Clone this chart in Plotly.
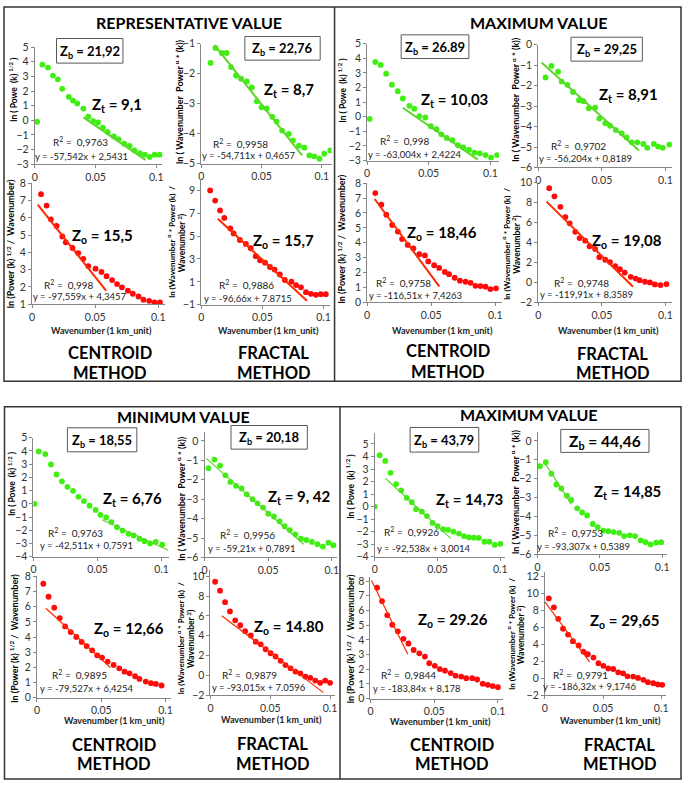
import plotly.graph_objects as go

W, H = 685, 787
FONT = "Lato"

XT_VALS = [0, 0.05, 0.1]
XT_TEXT = ["0", "0.05", "0.1"]

# ---------------- REPRESENTATIVE VALUE ----------------
rep_ct_top_x = [0.002, 0.0063, 0.0109, 0.015, 0.019, 0.0226, 0.028, 0.0315, 0.035, 0.040, 0.044, 0.048, 0.052,
                0.056, 0.060, 0.065, 0.069, 0.0736, 0.078, 0.082, 0.0864, 0.0905, 0.0946, 0.0986, 0.1027]
rep_ct_top_y = [-0.1, 3.8, 3.6, 3.05, 2.8, 2.15, 1.6, 1.35, 1.15, 0.8, 0.25, -0.05, -0.15,
                -0.5, -0.8, -1.1, -1.3, -1.6, -1.75, -2.05, -2.25, -2.35, -2.5, -2.35, -2.35]
rep_ct_top_fit_x = [0.040, 0.091]
rep_ct_top_fit_y = [0.2, -2.7]

rep_fr_top_x = [0.0077, 0.0118, 0.017, 0.021, 0.0247, 0.0288, 0.033, 0.0378, 0.042, 0.046, 0.050, 0.0542,
                0.0589, 0.0625, 0.067, 0.0726, 0.076, 0.081, 0.0855, 0.0896, 0.0937, 0.098, 0.102, 0.107]
rep_fr_top_y = [-1.64, -1.14, -1.31, -1.31, -1.78, -2.06, -2.17, -2.26, -2.46, -2.92, -3.12, -3.16,
                -3.44, -3.6, -3.9, -4.01, -4.23, -4.4, -4.47, -4.73, -4.76, -4.84, -4.67, -4.56]
rep_fr_top_fit_x = [0.011, 0.0836]
rep_fr_top_fit_y = [-1.05, -4.73]

rep_ct_bot_x = [0.0071, 0.0115, 0.0149, 0.0194, 0.024, 0.0267, 0.032, 0.0366, 0.0406, 0.0445, 0.0503, 0.055,
                0.059, 0.0634, 0.0673, 0.0712, 0.0759, 0.0798, 0.0843, 0.0882, 0.0927, 0.0969, 0.1013]
rep_ct_bot_y = [7.37, 6.71, 5.91, 5.53, 4.92, 4.58, 4.25, 3.95, 3.62, 3.2, 3.05, 2.86,
                2.62, 2.39, 2.16, 1.97, 1.78, 1.6, 1.44, 1.25, 1.19, 1.1, 1.1]
rep_ct_bot_fit_x = [0.0045, 0.0586]
rep_ct_bot_fit_y = [6.76, 1.78]

rep_fr_bot_x = [0.0073, 0.0114, 0.0154, 0.0189, 0.0238, 0.0265, 0.0316, 0.0365, 0.0405, 0.0446, 0.0481, 0.0522,
                0.0562, 0.060, 0.0643, 0.0684, 0.0738, 0.0776, 0.0816, 0.0857, 0.0897, 0.0938, 0.0978, 0.1019]
rep_fr_bot_y = [9.0, 8.11, 7.25, 6.59, 5.67, 5.24, 4.66, 4.32, 3.94, 3.25, 2.88, 2.68,
                2.3, 2.07, 1.64, 1.16, 1.01, 0.72, 0.52, 0.09, -0.05, -0.14, -0.08, -0.08]
rep_fr_bot_fit_x = [0.0135, 0.0865]
rep_fr_bot_fit_y = [6.53, -0.66]

# ---------------- MAXIMUM VALUE (top) ----------------
max1_ct_top_x = [0.0021, 0.0067, 0.011, 0.0155, 0.0201, 0.0249, 0.029, 0.0343, 0.0383, 0.0424, 0.0472, 0.0517,
                 0.0563, 0.0603, 0.0646, 0.0692, 0.0737, 0.078, 0.0826, 0.0871, 0.0914, 0.096, 0.1005, 0.1054]
max1_ct_top_y = [-0.15, 3.75, 3.55, 2.95, 2.2, 1.75, 1.25, 0.75, 0.55, 0.05, -0.05, -0.65,
                 -0.85, -1.2, -1.45, -1.6, -1.95, -2.1, -2.25, -2.45, -2.5, -2.62, -2.8, -2.62]
max1_ct_top_fit_x = [0.029, 0.0898]
max1_ct_top_fit_y = [0.62, -2.93]

max1_fr_top_x = [0.0057, 0.0104, 0.0156, 0.0184, 0.0229, 0.0273, 0.032, 0.0356, 0.0397, 0.0447, 0.048, 0.0527,
                 0.0564, 0.061, 0.0657, 0.0694, 0.0735, 0.0779, 0.0826, 0.0857, 0.0909, 0.0943, 0.0979, 0.1031]
max1_fr_top_y = [-1.6, -1.03, -1.32, -1.8, -1.96, -2.31, -2.71, -2.76, -3.11, -3.08, -3.61, -3.84,
                 -3.96, -4.17, -4.33, -4.53, -4.77, -4.77, -4.85, -5.04, -4.85, -4.98, -5.04, -4.88]
max1_fr_top_fit_x = [0.0026, 0.0792]
max1_fr_top_fit_y = [-0.87, -5.17]

max1_ct_bot_x = [0.0064, 0.0111, 0.015, 0.0196, 0.024, 0.0273, 0.0317, 0.0361, 0.0407, 0.0451, 0.0477, 0.0523,
                 0.0562, 0.0606, 0.0639, 0.0683, 0.0724, 0.0768, 0.0807, 0.0845, 0.0884, 0.0923, 0.0961, 0.1005]
max1_ct_bot_y = [7.34, 6.56, 5.88, 5.19, 4.75, 4.24, 3.85, 3.62, 3.23, 3.14, 2.74, 2.48,
                 2.3, 2.03, 1.88, 1.64, 1.44, 1.37, 1.3, 1.1, 1.08, 1.04, 0.88, 0.93]
max1_ct_bot_fit_x = [0.0059, 0.0564]
max1_ct_bot_fit_y = [6.94, 1.04]

max1_fr_bot_x = [0.0086, 0.0127, 0.0174, 0.0213, 0.0247, 0.0291, 0.0325, 0.0369, 0.0403, 0.0447, 0.048, 0.0527,
                 0.0564, 0.0605, 0.0642, 0.068, 0.0727, 0.0766, 0.0797, 0.0839, 0.0878, 0.0917, 0.0961, 0.1008]
max1_fr_bot_y = [9.44, 8.62, 7.57, 6.55, 5.92, 5.07, 4.44, 4.18, 3.62, 3.36, 2.53, 2.27,
                 2.04, 1.64, 1.32, 0.99, 0.56, 0.39, 0.23, 0.07, 0.0, -0.2, -0.26, -0.16]
max1_fr_bot_fit_x = [0.0065, 0.0745]
max1_fr_bot_fit_y = [8.09, -0.43]

# ---------------- MINIMUM VALUE ----------------
min_ct_top_x = [0.0008, 0.0041, 0.0093, 0.0137, 0.018, 0.0222, 0.0265, 0.0309, 0.0351, 0.0394, 0.0438, 0.0485,
                0.0523, 0.0567, 0.0608, 0.0652, 0.0696, 0.0742, 0.0781, 0.0827, 0.0866, 0.091, 0.0954, 0.1005]
min_ct_top_y = [0.0, 3.96, 3.76, 2.97, 2.22, 1.7, 1.28, 0.98, 0.53, 0.21, -0.14, -0.46,
                -0.83, -1.03, -1.38, -1.77, -2.02, -2.27, -2.39, -2.64, -2.82, -2.99, -2.87, -3.08]
min_ct_top_fit_x = [0.0536, 0.1052]
min_ct_top_fit_y = [-1.2, -3.51]

min_fr_top_x = [0.0031, 0.0078, 0.0122, 0.0164, 0.0203, 0.0247, 0.0291, 0.0332, 0.0377, 0.0416, 0.046, 0.0501,
                0.0545, 0.059, 0.0629, 0.067, 0.0714, 0.0758, 0.080, 0.0844, 0.0888, 0.093, 0.0974, 0.1013]
min_fr_top_y = [-1.4, -0.96, -1.27, -1.77, -2.11, -2.31, -2.45, -2.75, -3.0, -3.21, -3.43, -3.75,
                -3.89, -4.14, -4.39, -4.59, -4.81, -5.03, -5.1, -5.2, -5.32, -5.44, -5.24, -5.37]
min_fr_top_fit_x = [0.0013, 0.0779]
min_fr_top_fit_y = [-0.9, -5.32]

min_ct_bot_x = [0.0049, 0.009, 0.0134, 0.0177, 0.0219, 0.0262, 0.0306, 0.0347, 0.0386, 0.0429, 0.0468, 0.0506,
                0.055, 0.0596, 0.064, 0.0681, 0.072, 0.0763, 0.0797, 0.0846, 0.0887, 0.0925, 0.0969]
min_ct_bot_y = [7.52, 6.66, 5.94, 5.25, 4.7, 4.33, 4.01, 3.68, 3.4, 3.12, 2.79, 2.64,
                2.38, 2.16, 1.93, 1.71, 1.6, 1.41, 1.23, 1.06, 0.95, 0.9, 0.8]
min_ct_bot_fit_x = [0.0069, 0.0571]
min_ct_bot_fit_y = [5.9, 1.99]

min_fr_bot_x = [0.0039, 0.008, 0.0122, 0.0163, 0.0207, 0.0249, 0.029, 0.0337, 0.0378, 0.042, 0.0461, 0.0503,
                0.0544, 0.0586, 0.0627, 0.0669, 0.071, 0.0751, 0.0793, 0.0834, 0.0876, 0.0917, 0.0959, 0.100]
min_fr_bot_y = [9.44, 8.54, 7.38, 6.45, 5.56, 5.06, 4.46, 4.03, 3.4, 3.14, 2.64, 2.24,
                1.91, 1.48, 1.05, 0.72, 0.39, 0.22, -0.11, -0.24, -0.51, -0.74, -0.51, -0.74]
min_fr_bot_fit_x = [0.0094, 0.0945]
min_fr_bot_fit_y = [6.02, -1.73]

# ---------------- MAXIMUM VALUE (bottom) ----------------
max2_ct_top_x = [0.0, 0.0039, 0.0084, 0.0126, 0.0171, 0.0211, 0.0255, 0.0295, 0.0329, 0.0376, 0.0416, 0.0461,
                 0.050, 0.0545, 0.0584, 0.0626, 0.0671, 0.0711, 0.075, 0.0789, 0.0829, 0.0874, 0.0913, 0.0955, 0.100]
max2_ct_top_y = [0.0, 4.1, 3.65, 2.7, 1.8, 1.3, 0.7, 0.35, -0.2, -0.4, -0.75, -1.3,
                 -1.55, -1.8, -1.85, -2.0, -2.15, -2.35, -2.45, -2.48, -2.5, -2.8, -2.8, -3.05, -2.97]
max2_ct_top_fit_x = [0.0087, 0.0605]
max2_ct_top_fit_y = [2.24, -2.53]

max2_fr_top_x = [0.0019, 0.0066, 0.0111, 0.0151, 0.0191, 0.0236, 0.0271, 0.0318, 0.0358, 0.0398, 0.0443, 0.0483,
                 0.0528, 0.0568, 0.061, 0.0655, 0.0695, 0.074, 0.0782, 0.0828, 0.0867, 0.0907, 0.0952, 0.0992]
max2_fr_top_y = [-1.34, -1.13, -1.74, -2.31, -2.52, -2.9, -3.13, -3.57, -3.79, -3.95, -4.4, -4.57,
                 -4.75, -4.78, -4.83, -4.87, -5.04, -5.0, -5.04, -5.27, -5.36, -5.48, -5.39, -5.36]
max2_fr_top_fit_x = [0.0058, 0.0271]
max2_fr_top_fit_y = [-1.17, -3.36]

max2_ct_bot_x = [0.0052, 0.0091, 0.0132, 0.0171, 0.0215, 0.0259, 0.0298, 0.0339, 0.0383, 0.0427, 0.0461, 0.0505,
                 0.0544, 0.0585, 0.063, 0.0668, 0.0712, 0.0751, 0.0798, 0.0837, 0.0881, 0.092, 0.0959, 0.100]
max2_ct_bot_y = [7.55, 6.64, 5.68, 5.03, 4.58, 4.07, 3.75, 3.31, 3.08, 2.86, 2.41, 2.23,
                 2.01, 1.9, 1.74, 1.56, 1.5, 1.39, 1.39, 1.3, 1.01, 0.94, 0.85, 0.78]
max2_ct_bot_fit_x = [0.0008, 0.0293]
max2_ct_bot_fit_y = [8.04, 3.02]

max2_fr_bot_x = [0.0034, 0.0077, 0.0114, 0.0156, 0.0199, 0.0241, 0.029, 0.0332, 0.0369, 0.0418, 0.046, 0.0503,
                 0.0545, 0.0588, 0.0631, 0.0673, 0.071, 0.0759, 0.0801, 0.0847, 0.0886, 0.0932, 0.0972, 0.1009]
max2_fr_bot_y = [9.41, 8.37, 7.01, 5.85, 5.16, 4.38, 3.88, 3.14, 2.84, 2.45, 1.79, 1.48,
                 1.17, 1.1, 0.71, 0.59, 0.24, 0.21, 0.05, -0.18, -0.45, -0.57, -0.72, -0.76]
max2_fr_bot_fit_x = [0.0, 0.0384]
max2_fr_bot_fit_y = [9.02, 1.95]

# y tick values
yt_m3_5 = [-3, -2, -1, 0, 1, 2, 3, 4, 5]
yt_m4_5 = [-4, -3, -2, -1, 0, 1, 2, 3, 4, 5]
yt_m5_m1 = [-5, -4, -3, -2, -1]
yt_m6_0 = [-6, -5, -4, -3, -2, -1, 0]
yt_1_8 = [1, 2, 3, 4, 5, 6, 7, 8]
yt_0_8 = [0, 1, 2, 3, 4, 5, 6, 7, 8]
yt_m1_9 = [-1, 1, 3, 5, 7, 9]
yt_m2_10 = [-2, 0, 2, 4, 6, 8, 10]
yt_m2_12 = [-2, 0, 2, 4, 6, 8, 10, 12]

GREEN = "#3FEF12"
GREEN_LINE = "#5CD62A"
RED = "#FF0A0A"
RED_LINE = "#FF2A00"

# layout of each panel (pixel geometry)
panels = [
    # x, y, fit x, fit y, marker colour, line colour, px of x=0, px per 0.1, x max, ymin, px, ymax, px, ticks, line width
    (rep_ct_top_x, rep_ct_top_y, rep_ct_top_fit_x, rep_ct_top_fit_y, GREEN, GREEN_LINE, 32, 122.7, 0.105, -3, 160.7, 5, 41.7, yt_m3_5, 2),
    (rep_fr_top_x, rep_fr_top_y, rep_fr_top_fit_x, rep_fr_top_fit_y, GREEN, GREEN_LINE, 200, 121.7, 0.108, -5, 160, -1, 38.3, yt_m5_m1, 2),
    (rep_ct_bot_x, rep_ct_bot_y, rep_ct_bot_fit_x, rep_ct_bot_fit_y, RED, RED_LINE, 29.3, 127.4, 0.105, 1, 302.7, 8, 180, yt_1_8, 2),
    (rep_fr_bot_x, rep_fr_bot_y, rep_fr_bot_fit_x, rep_fr_bot_fit_y, RED, RED_LINE, 200, 123.3, 0.105, -1, 303.3, 10, 175.7, yt_m1_9, 2),
    (max1_ct_top_x, max1_ct_top_y, max1_ct_top_fit_x, max1_ct_top_fit_y, GREEN, GREEN_LINE, 367.3, 124.4, 0.107, -3, 157, 5, 38.3, yt_m3_5, 2),
    (max1_fr_top_x, max1_fr_top_y, max1_fr_top_fit_x, max1_fr_top_fit_y, GREEN, GREEN_LINE, 540, 128.3, 0.105, -6, 164, 0, 39.3, yt_m6_0, 2),
    (max1_ct_bot_x, max1_ct_bot_y, max1_ct_bot_fit_x, max1_ct_bot_fit_y, RED, RED_LINE, 367.3, 129.4, 0.105, 0, 300.7, 8, 180, yt_0_8, 2),
    (max1_fr_bot_x, max1_fr_bot_y, max1_fr_bot_fit_x, max1_fr_bot_fit_y, RED, RED_LINE, 540, 128.3, 0.105, -2, 301, 10, 179.3, yt_m2_10, 2),
    (min_ct_top_x, min_ct_top_y, min_ct_top_fit_x, min_ct_top_fit_y, GREEN, GREEN_LINE, 30.7, 129.3, 0.106, -4, 559.3, 5, 438.3, yt_m4_5, 1.2),
    (min_fr_top_x, min_fr_top_y, min_fr_top_fit_x, min_fr_top_fit_y, GREEN, GREEN_LINE, 203.3, 128.4, 0.104, -6, 560, 0.44, 433, yt_m6_0, 1.2),
    (min_ct_bot_x, min_ct_bot_y, min_ct_bot_fit_x, min_ct_bot_fit_y, RED, RED_LINE, 34.3, 129.7, 0.104, 0, 702.3, 8, 579.3, yt_0_8, 1.2),
    (min_fr_bot_x, min_fr_bot_y, min_fr_bot_fit_x, min_fr_bot_fit_y, RED, RED_LINE, 209.3, 120.7, 0.104, -2, 700, 10.6, 573, yt_m2_10, 1.2),
    (max2_ct_top_x, max2_ct_top_y, max2_ct_top_fit_x, max2_ct_top_fit_y, GREEN, GREEN_LINE, 375, 126.7, 0.104, -4, 559.3, 5.9, 433.3, yt_m4_5, 1.2),
    (max2_fr_top_x, max2_fr_top_y, max2_fr_top_fit_x, max2_fr_top_fit_y, GREEN, GREEN_LINE, 539.3, 125.7, 0.104, -6, 556.7, 0.45, 433, yt_m6_0, 1.2),
    (max2_ct_bot_x, max2_ct_bot_y, max2_ct_bot_fit_x, max2_ct_bot_fit_y, RED, RED_LINE, 370.7, 128.6, 0.104, 0, 703.3, 8.27, 580, yt_0_8, 1.2),
    (max2_fr_bot_x, max2_fr_bot_y, max2_fr_bot_fit_x, max2_fr_bot_fit_y, RED, RED_LINE, 546.7, 117.3, 0.104, -2, 700, 12.5, 575, yt_m2_12, 1.2),
]


def px(x):
    return x / W


def py(y):
    return 1 - y / H


fig = go.Figure()
layout_axes = {}
for i, (xs, ys, fx, fy, mc, lc, x0p, s, xr, y0, y0p, y1, y1p, yt, lw) in enumerate(panels):
    n = i + 1
    xa = "x" if n == 1 else f"x{n}"
    ya = "y" if n == 1 else f"y{n}"
    fig.add_trace(go.Scatter(x=xs, y=ys, mode="markers", xaxis=xa, yaxis=ya,
                             marker=dict(color=mc, size=5.8), showlegend=False, hoverinfo="skip"))
    fig.add_trace(go.Scatter(x=fx, y=fy, mode="lines", xaxis=xa, yaxis=ya,
                             line=dict(color=lc, width=lw), showlegend=False, hoverinfo="skip"))
    xkey = "xaxis" if n == 1 else f"xaxis{n}"
    ykey = "yaxis" if n == 1 else f"yaxis{n}"
    common = dict(showline=True, linecolor="#868686", linewidth=1, ticks="outside", ticklen=3,
                  tickcolor="#868686", showgrid=False, zeroline=False,
                  tickfont=dict(family=FONT, size=10.5, color="#333"))
    layout_axes[xkey] = dict(common, domain=[px(x0p), px(x0p + s * xr / 0.1)], range=[0, xr],
                             tickvals=XT_VALS, ticktext=XT_TEXT, anchor=ya)
    layout_axes[ykey] = dict(common, domain=[py(y0p), py(y1p)], range=[y0, y1],
                             tickvals=yt, anchor=xa)

fig.update_layout(**layout_axes)

ann = []


def T(text, x, y, size, bold=False, angle=0, color="black"):
    if bold:
        text = f"<b>{text}</b>"
    ann.append(dict(text=text, x=px(x), y=py(y), xref="paper", yref="paper", showarrow=False,
                    xanchor="center", yanchor="middle", textangle=angle,
                    font=dict(family=FONT, size=size, color=color)))


# titles
T("REPRESENTATIVE VALUE", 188, 17, 16, True)
T("MAXIMUM VALUE", 540.5, 17, 16, True)
T("MINIMUM VALUE", 182, 417, 16, True)
T("MAXIMUM VALUE", 531, 415, 16, True)

# Zb boxes
zb_boxes = [
    ("21,92", 54, 33, 121, 58, 13), ("22,76", 244, 31, 320, 55, 13),
    ("26.89", 401.7, 29.3, 470, 53.3, 13), ("29,25", 573, 31.7, 645, 56, 13),
    ("18,55", 65, 428.3, 135, 452.7, 13), ("20,18", 230, 426, 307, 450, 13),
    ("43,79", 410.7, 428, 480, 453, 13), ("44,46", 562.7, 430, 651.7, 453.3, 15.5),
]
shapes = []
for val, bx0, by0, bx1, by1, fs in zb_boxes:
    shapes.append(dict(type="rect", xref="paper", yref="paper", x0=px(bx0), x1=px(bx1), y0=py(by1), y1=py(by0),
                       line=dict(color="#595959", width=1), fillcolor="white"))
    T(f"Z<sub>b</sub> = {val}", (bx0 + bx1) / 2, (by0 + by1) / 2 + 1, fs, True)

# Zt / Zo labels
z_labels = [
    ("t", "9,1", 115, 101), ("t", "8,7", 289, 85), ("o", "15,5", 100, 234), ("o", "15,7", 283, 239),
    ("t", "10,03", 455, 95), ("t", "8,91", 631, 90), ("o", "18,46", 443, 231), ("o", "19,08", 630, 239),
    ("t", "6,76", 131, 501), ("t", "= 9, 42", 299, 499), ("o", "12,66", 127, 633), ("o", "14.80", 289, 631),
    ("t", "14,73", 471, 502), ("t", "14,85", 630, 494), ("o", "29.26", 454, 624), ("o", "29,65", 627, 625),
]
for sub, val, x, y in z_labels:
    if val.startswith("="):
        T(f"Z<sub>{sub}</sub> {val}", x, y, 15, True)
    else:
        T(f"Z<sub>{sub}</sub> = {val}", x, y, 15, True)

# R2 and equations
r2 = [
    ("0,9763", 78, 138), ("0,9958", 240, 140), ("0,998", 66, 283), ("0,9886", 246, 283),
    ("0,998", 405, 137), ("0,9702", 581, 142), ("0,9758", 404, 281), ("0,9748", 584, 281),
    ("0,9763", 73, 535), ("0,9956", 247, 537), ("0,9895", 77, 679), ("0,9879", 249, 679),
    ("0,9926", 412, 534), ("0,9753", 578, 535), ("0,9844", 409, 679), ("0,9791", 583, 679),
]
for val, x, y in r2:
    T(f"R<sup>2</sup> =  {val}", x, y, 10, False, color="#222")

eqs = [
    ("y = -57,542x + 2,5431", 79, 153), ("y = -54,711x + 0,4657", 248, 152),
    ("y = -97,559x + 4,3457", 78, 295), ("y = -96,66x + 7.8715", 247, 297),
    ("y = -63,004x + 2,4224", 416, 151), ("y = -56,204x + 0,8189", 588, 155),
    ("y = -116,51x + 7,4263", 416, 294), ("y = -119,91x + 8,3589", 589, 293),
    ("y = -42,511x + 0,7591", 84, 548), ("y = -59,21x + 0,7891", 251, 551),
    ("y = -79,527x + 6,4254", 85, 693), ("y = -93,015x + 7.0596", 258, 692),
    ("y = -92,538x + 3,0014", 425, 551), ("y = -93,307x + 0,5389", 586, 549),
    ("y = -183,84x + 8,178", 418, 693), ("y = -186,32x + 9,1746", 592, 691),
]
for val, x, y in eqs:
    T(val, x, y, 9.5, False, color="#222")

# axis titles
ylab_a = "ln ( Powe  (k) <sup>1/2</sup> )"
ylab_b = "ln ( Wavenumber  Power <sup>α</sup> * (k))"
ylab_c = "ln (Power (k) <sup>1/2</sup> /  Wavenumber)"
ylab_d1 = "ln (Wavenumber <sup>α</sup> * Power (k)  /"
ylab_d2 = "Wavenumber <sup>2</sup>)"
xlab = "Wavenumber (1 km_unit)"

for x, y in [(10, 84), (341.7, 85), (8.3, 485), (350, 487)]:
    T(ylab_a, x, y, 8.5, True, -90)
for x, y in [(177, 97), (516.7, 95), (180, 500), (517, 493)]:
    T(ylab_b, x, y, 9, True, -90)
for x, y in [(8, 241), (342, 237), (11.7, 642), (351, 642)]:
    T(ylab_c, x, y, 9, True, -90)
for x1, x2, y in [(169, 180.5, 240), (507, 518, 242), (178.5, 189.5, 642), (512, 522.5, 638)]:
    T(ylab_d1, x1, y, 8, True, -90)
    T(ylab_d2, x2, y, 8.5, True, -90)

for x, y in [(99, 330), (268, 330), (443, 330), (611, 330), (112, 726), (271, 725), (441, 727), (613, 726)]:
    T(xlab, x, y, 9, True, color="#222")

# method labels
for name, x, y1, y2 in [("CENTROID", 108, 352, 373), ("FRACTAL", 273, 352, 373),
                        ("CENTROID", 449, 350, 372), ("FRACTAL", 615, 353, 373),
                        ("CENTROID", 112, 750, 770), ("FRACTAL", 272, 749, 770),
                        ("CENTROID", 453, 750, 770), ("FRACTAL", 622, 750, 770)]:
    T(name, x, y1, 16.5, True)
    T("METHOD", x, y2, 16.5, True)

# frames
for (a, b, c, d) in [(1, 1, 684, 381), (1.5, 407, 684, 785)]:
    shapes.append(dict(type="rect", xref="paper", yref="paper", x0=px(a), x1=px(c), y0=py(d), y1=py(b),
                       line=dict(color="#333", width=1.5)))
shapes.append(dict(type="line", xref="paper", yref="paper", x0=px(334.5), x1=px(334.5), y0=py(381), y1=py(1),
                   line=dict(color="#333", width=1.5)))
shapes.append(dict(type="line", xref="paper", yref="paper", x0=px(340), x1=px(340), y0=py(785), y1=py(407),
                   line=dict(color="#333", width=1.5)))

fig.update_layout(width=W, height=H, margin=dict(l=0, r=0, t=0, b=0),
                  paper_bgcolor="white", plot_bgcolor="rgba(0,0,0,0)",
                  annotations=ann, shapes=shapes, font=dict(family=FONT))
fig.write_html("out.html", config={"displayModeBar": False},
               post_script="document.body.style.margin='0';document.body.style.overflow='hidden';")
